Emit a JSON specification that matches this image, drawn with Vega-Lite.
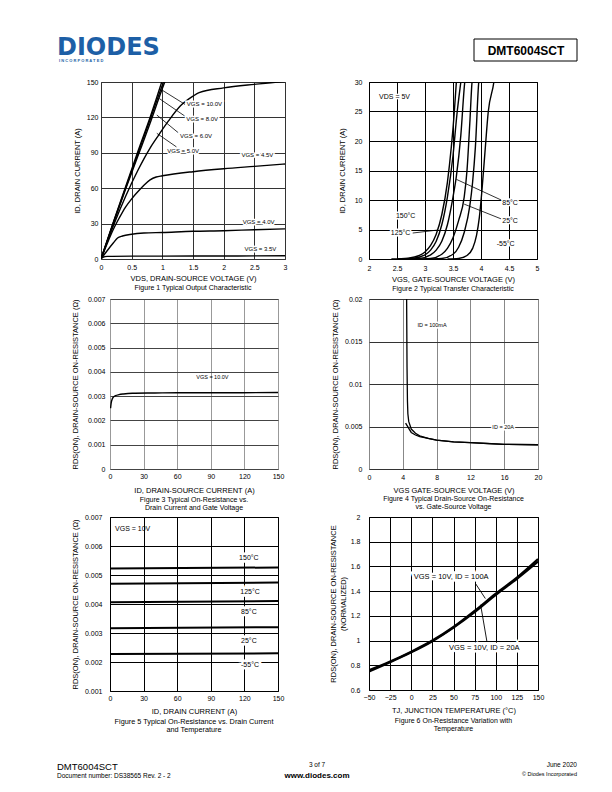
{
  "$schema": "https://vega.github.io/schema/vega-lite/v6.json",
  "padding": 0,
  "background": "white",
  "spacing": 0,
  "config": {
    "font": "Liberation Sans",
    "view": {"stroke": null},
    "axis": {"labelFont": "Liberation Sans", "labelFontSize": 7, "labelColor": "#000", "titleFont": "Liberation Sans", "titleFontSize": 7.5, "titleFontWeight": "normal", "titleColor": "#000", "ticks": false, "domain": false, "grid": true, "gridColor": "#000", "gridOpacity": 1, "gridWidth": 1, "labelFlush": false, "labelOverlap": false, "tickCount": 30},
    "title": {"font": "Liberation Sans", "fontSize": 7, "fontWeight": "normal", "color": "#000", "orient": "bottom", "anchor": "middle", "lineHeight": 8.5},
    "text": {"font": "Liberation Sans", "color": "#000"}
  },
  "datasets": {
    "c1": [
      {"s": "10", "x": 0, "y": 0}, {"s": "10", "x": 0.2, "y": 31}, {"s": "10", "x": 0.4, "y": 61}, {"s": "10", "x": 0.6, "y": 91}, {"s": "10", "x": 0.8, "y": 120}, {"s": "10", "x": 0.99, "y": 150}, {"s": "10", "x": 1.02, "y": 155},
      {"s": "8", "x": 0, "y": 0}, {"s": "8", "x": 0.2, "y": 30.5}, {"s": "8", "x": 0.4, "y": 60}, {"s": "8", "x": 0.6, "y": 89}, {"s": "8", "x": 0.8, "y": 118}, {"s": "8", "x": 1.02, "y": 150}, {"s": "8", "x": 1.05, "y": 154},
      {"s": "6", "x": 0, "y": 0}, {"s": "6", "x": 0.2, "y": 30}, {"s": "6", "x": 0.4, "y": 59}, {"s": "6", "x": 0.6, "y": 87}, {"s": "6", "x": 0.8, "y": 115}, {"s": "6", "x": 1.04, "y": 150}, {"s": "6", "x": 1.07, "y": 154},
      {"s": "5", "x": 0, "y": 0}, {"s": "5", "x": 0.2, "y": 28}, {"s": "5", "x": 0.4, "y": 53}, {"s": "5", "x": 0.6, "y": 75}, {"s": "5", "x": 0.8, "y": 94}, {"s": "5", "x": 0.94, "y": 105}, {"s": "5", "x": 1.1, "y": 117}, {"s": "5", "x": 1.3, "y": 130}, {"s": "5", "x": 1.5, "y": 138}, {"s": "5", "x": 1.6, "y": 141}, {"s": "5", "x": 2, "y": 145}, {"s": "5", "x": 2.5, "y": 148}, {"s": "5", "x": 2.9, "y": 150}, {"s": "5", "x": 3, "y": 150.3},
      {"s": "4.5", "x": 0, "y": 0}, {"s": "4.5", "x": 0.1, "y": 13}, {"s": "4.5", "x": 0.2, "y": 25}, {"s": "4.5", "x": 0.3, "y": 35}, {"s": "4.5", "x": 0.4, "y": 44}, {"s": "4.5", "x": 0.5, "y": 51}, {"s": "4.5", "x": 0.6, "y": 57}, {"s": "4.5", "x": 0.7, "y": 62.5}, {"s": "4.5", "x": 0.8, "y": 67}, {"s": "4.5", "x": 0.9, "y": 69.5}, {"s": "4.5", "x": 1.0, "y": 70.5}, {"s": "4.5", "x": 1.5, "y": 74}, {"s": "4.5", "x": 2, "y": 76.5}, {"s": "4.5", "x": 2.5, "y": 78.5}, {"s": "4.5", "x": 3, "y": 80.5},
      {"s": "4", "x": 0, "y": 0}, {"s": "4", "x": 0.1, "y": 7}, {"s": "4", "x": 0.2, "y": 13.5}, {"s": "4", "x": 0.27, "y": 17.8}, {"s": "4", "x": 0.35, "y": 19.5}, {"s": "4", "x": 0.5, "y": 21}, {"s": "4", "x": 0.7, "y": 22}, {"s": "4", "x": 1.0, "y": 22.5}, {"s": "4", "x": 1.5, "y": 23.5}, {"s": "4", "x": 2, "y": 24}, {"s": "4", "x": 2.5, "y": 24.8}, {"s": "4", "x": 3, "y": 25.5},
      {"s": "3.5", "x": 0, "y": 0}, {"s": "3.5", "x": 0.03, "y": 1.5}, {"s": "3.5", "x": 0.1, "y": 2.2}, {"s": "3.5", "x": 0.5, "y": 2.4}, {"s": "3.5", "x": 1.5, "y": 2.5}, {"s": "3.5", "x": 3, "y": 2.7}
    ],
    "c1t": [
      {"t": "VGS = 10.0V", "x": 1.40, "y": 131},
      {"t": "VGS = 8.0V", "x": 1.39, "y": 119},
      {"t": "VGS = 6.0V", "x": 1.29, "y": 104},
      {"t": "VGS = 5.0V", "x": 1.08, "y": 91.5},
      {"t": "VGS = 4.5V", "x": 2.29, "y": 88},
      {"t": "VGS = 4.0V", "x": 2.31, "y": 31.6},
      {"t": "VGS = 3.5V", "x": 2.34, "y": 8.5}
    ],
    "c1a": [
      {"x": 1.37, "y": 131, "x2": 1.0, "y2": 143},
      {"x": 1.37, "y": 121, "x2": 0.95, "y2": 136},
      {"x": 1.26, "y": 107, "x2": 0.91, "y2": 122},
      {"x": 1.23, "y": 95, "x2": 0.91, "y2": 106.5}
    ],
    "c2": [
      {"s": "A", "x": 2.4, "y": 0}, {"s": "A", "x": 2.7, "y": 0.15}, {"s": "A", "x": 2.9, "y": 0.6}, {"s": "A", "x": 3.0, "y": 1.2}, {"s": "A", "x": 3.1, "y": 2.3}, {"s": "A", "x": 3.2, "y": 4.2}, {"s": "A", "x": 3.3, "y": 7.5}, {"s": "A", "x": 3.4, "y": 13}, {"s": "A", "x": 3.47, "y": 19}, {"s": "A", "x": 3.52, "y": 24.5}, {"s": "A", "x": 3.56, "y": 30}, {"s": "A", "x": 3.57, "y": 31.5},
      {"s": "B", "x": 2.5, "y": 0}, {"s": "B", "x": 2.8, "y": 0.15}, {"s": "B", "x": 3.0, "y": 0.7}, {"s": "B", "x": 3.1, "y": 1.5}, {"s": "B", "x": 3.2, "y": 3}, {"s": "B", "x": 3.3, "y": 5.8}, {"s": "B", "x": 3.4, "y": 10.5}, {"s": "B", "x": 3.5, "y": 17.5}, {"s": "B", "x": 3.57, "y": 24.5}, {"s": "B", "x": 3.64, "y": 30}, {"s": "B", "x": 3.66, "y": 31.5},
      {"s": "C", "x": 2.6, "y": 0}, {"s": "C", "x": 2.9, "y": 0.1}, {"s": "C", "x": 3.1, "y": 0.7}, {"s": "C", "x": 3.2, "y": 1.5}, {"s": "C", "x": 3.3, "y": 3.0}, {"s": "C", "x": 3.4, "y": 5.8}, {"s": "C", "x": 3.5, "y": 10.5}, {"s": "C", "x": 3.56, "y": 14}, {"s": "C", "x": 3.64, "y": 21}, {"s": "C", "x": 3.71, "y": 30}, {"s": "C", "x": 3.73, "y": 31.5},
      {"s": "D", "x": 2.8, "y": 0}, {"s": "D", "x": 3.1, "y": 0.1}, {"s": "D", "x": 3.3, "y": 0.8}, {"s": "D", "x": 3.4, "y": 1.8}, {"s": "D", "x": 3.5, "y": 3.6}, {"s": "D", "x": 3.6, "y": 6.5}, {"s": "D", "x": 3.7, "y": 10.5}, {"s": "D", "x": 3.75, "y": 15}, {"s": "D", "x": 3.8, "y": 23}, {"s": "D", "x": 3.84, "y": 30}, {"s": "D", "x": 3.86, "y": 31.5},
      {"s": "E", "x": 3.0, "y": 0}, {"s": "E", "x": 3.3, "y": 0.1}, {"s": "E", "x": 3.5, "y": 0.8}, {"s": "E", "x": 3.6, "y": 2}, {"s": "E", "x": 3.7, "y": 4.5}, {"s": "E", "x": 3.8, "y": 9}, {"s": "E", "x": 3.85, "y": 13}, {"s": "E", "x": 3.9, "y": 19}, {"s": "E", "x": 3.96, "y": 30}, {"s": "E", "x": 3.98, "y": 31.5},
      {"s": "F", "x": 3.4, "y": 0}, {"s": "F", "x": 3.6, "y": 0.1}, {"s": "F", "x": 3.75, "y": 0.6}, {"s": "F", "x": 3.85, "y": 1.8}, {"s": "F", "x": 3.92, "y": 4}, {"s": "F", "x": 3.97, "y": 7}, {"s": "F", "x": 4.02, "y": 12}, {"s": "F", "x": 4.07, "y": 18}, {"s": "F", "x": 4.13, "y": 25}, {"s": "F", "x": 4.23, "y": 30}, {"s": "F", "x": 4.25, "y": 31.5}
    ],
    "c2t": [
      {"t": "VDS = 5V", "x": 2.18, "y": 27.5},
      {"t": "150°C", "x": 2.48, "y": 7.25},
      {"t": "125°C", "x": 2.39, "y": 4.4},
      {"t": "85°C", "x": 4.38, "y": 9.5},
      {"t": "25°C", "x": 4.38, "y": 6.5},
      {"t": "-55°C", "x": 4.28, "y": 2.6}
    ],
    "c2a": [
      {"x": 2.78, "y": 4.4, "x2": 3.22, "y2": 4.9},
      {"x": 4.36, "y": 10, "x2": 3.56, "y2": 13.5},
      {"x": 4.36, "y": 6.8, "x2": 3.70, "y2": 9.3}
    ],
    "c3": [
      {"x": 0.5, "y": 0.0025}, {"x": 1, "y": 0.0027}, {"x": 2, "y": 0.00288}, {"x": 3, "y": 0.00296}, {"x": 5, "y": 0.00302}, {"x": 8, "y": 0.00306}, {"x": 12, "y": 0.00309}, {"x": 20, "y": 0.00312}, {"x": 40, "y": 0.00313}, {"x": 60, "y": 0.00314}, {"x": 100, "y": 0.00314}, {"x": 150, "y": 0.00315}
    ],
    "c3t": [{"t": "VGS = 10.0V", "x": 77, "y": 0.0038}],
    "c4": [
      {"s": "a", "x": 4.45, "y": 0.0205}, {"s": "a", "x": 4.5, "y": 0.012}, {"s": "a", "x": 4.55, "y": 0.008}, {"s": "a", "x": 4.6, "y": 0.0065}, {"s": "a", "x": 4.7, "y": 0.0056}, {"s": "a", "x": 5, "y": 0.0047}, {"s": "a", "x": 5.5, "y": 0.0042}, {"s": "a", "x": 6, "y": 0.0039}, {"s": "a", "x": 7, "y": 0.0036}, {"s": "a", "x": 8, "y": 0.0034}, {"s": "a", "x": 10, "y": 0.0032}, {"s": "a", "x": 12, "y": 0.0031}, {"s": "a", "x": 14, "y": 0.003}, {"s": "a", "x": 16, "y": 0.0029}, {"s": "a", "x": 20, "y": 0.00285},
      {"s": "b", "x": 4.33, "y": 0.0054}, {"s": "b", "x": 5, "y": 0.0043}, {"s": "b", "x": 5.5, "y": 0.004}, {"s": "b", "x": 6, "y": 0.0038}, {"s": "b", "x": 7, "y": 0.0036}, {"s": "b", "x": 8, "y": 0.0034}, {"s": "b", "x": 10, "y": 0.0032}, {"s": "b", "x": 12, "y": 0.0031}, {"s": "b", "x": 16, "y": 0.0029}, {"s": "b", "x": 20, "y": 0.00285}
    ],
    "c4t": [{"t": "ID = 100mA", "x": 5.73, "y": 0.0169}, {"t": "ID = 20A", "x": 14.6, "y": 0.0049}],
    "c5": [
      {"s": "150", "x": 0, "y": 0.00522}, {"s": "150", "x": 150, "y": 0.00526},
      {"s": "125", "x": 0, "y": 0.0047}, {"s": "125", "x": 150, "y": 0.00474},
      {"s": "85", "x": 0, "y": 0.00406}, {"s": "85", "x": 150, "y": 0.0041},
      {"s": "25", "x": 0, "y": 0.00316}, {"s": "25", "x": 150, "y": 0.0032},
      {"s": "-55", "x": 0, "y": 0.00228}, {"s": "-55", "x": 150, "y": 0.0023}
    ],
    "c5t": [
      {"t": "150°C", "x": 124, "y": 0.0056},
      {"t": "125°C", "x": 125, "y": 0.0044},
      {"t": "85°C", "x": 124, "y": 0.00373},
      {"t": "25°C", "x": 124, "y": 0.00272},
      {"t": "-55°C", "x": 125, "y": 0.0019}
    ],
    "c5v": [{"t": "VGS = 10V", "x": 4.5, "y": 0.0066}],
    "c6": [
      {"s": "100", "x": -50, "y": 0.76}, {"s": "100", "x": -25, "y": 0.83}, {"s": "100", "x": 0, "y": 0.91}, {"s": "100", "x": 25, "y": 1.0}, {"s": "100", "x": 50, "y": 1.11}, {"s": "100", "x": 75, "y": 1.24}, {"s": "100", "x": 100, "y": 1.38}, {"s": "100", "x": 125, "y": 1.51}, {"s": "100", "x": 150, "y": 1.66},
      {"s": "20", "x": -50, "y": 0.75}, {"s": "20", "x": -25, "y": 0.825}, {"s": "20", "x": 0, "y": 0.905}, {"s": "20", "x": 25, "y": 0.995}, {"s": "20", "x": 50, "y": 1.105}, {"s": "20", "x": 75, "y": 1.23}, {"s": "20", "x": 100, "y": 1.37}, {"s": "20", "x": 125, "y": 1.5}, {"s": "20", "x": 150, "y": 1.64}
    ],
    "c6t": [{"t": "VGS = 10V, ID = 100A", "x": 3, "y": 1.516}, {"t": "VGS = 10V, ID = 20A", "x": 44.7, "y": 0.94}],
    "c6a": [{"x": 76.2, "y": 1.46, "x2": 87.7, "y2": 1.34}, {"x": 89.6, "y": 0.99, "x2": 82.1, "y2": 1.29}]
  },
  "vconcat": [
    {
      "width": 612, "height": 77,
      "view": {"stroke": null, "fill": "white"},
      "data": {"values": [{}]},
      "layer": [
        {"mark": {"type": "text", "x": 57, "y": 55, "text": "DIODES", "font": "DejaVu Sans", "fontSize": 24, "fontWeight": "bold", "color": "#1d5fa6", "align": "left", "baseline": "alphabetic"}},
        {"mark": {"type": "text", "x": 59, "y": 61.5, "text": "I    N    C    O    R    P    O    R    A    T    E    D", "fontSize": 4, "fontWeight": "bold", "color": "#1d5fa6", "align": "left", "baseline": "alphabetic"}},
        {"mark": {"type": "rect", "x": 474, "x2": 577, "y": 39, "y2": 61, "fill": null, "stroke": "#000", "strokeWidth": 1}, "encoding": {}},
        {"mark": {"type": "text", "x": 526, "y": 54.5, "text": "DMT6004SCT", "fontSize": 12, "fontWeight": "bold", "align": "center", "baseline": "alphabetic"}}
      ]
    },
    {
      "hconcat": [
        {"width": 101, "height": 212, "data": {"values": [{}]}, "mark": {"type": "text", "text": ""}},
        {
          "width": 184, "height": 177,
          "view": {"stroke": "#333", "strokeWidth": 1},
          "title": {"text": "Figure 1 Typical Output Characteristic", "offset": 2},
          "layer": [
            {"data": {"name": "c1"}, "mark": {"type": "line", "color": "#000", "strokeWidth": 1.4, "clip": true, "interpolate": "monotone"},
             "encoding": {
               "x": {"field": "x", "type": "quantitative", "scale": {"domain": [0, 3], "nice": false, "zero": false}, "axis": {"title": "VDS, DRAIN-SOURCE VOLTAGE (V)", "values": [0, 0.5, 1, 1.5, 2, 2.5, 3], "tickCount": 30, "format": ".1~f", "labelOverlap": false, "labelPadding": 4, "titlePadding": 4, "gridColor": "#333"}},
               "y": {"field": "y", "type": "quantitative", "scale": {"domain": [0, 150], "nice": false, "zero": false}, "axis": {"title": "ID, DRAIN CURRENT (A)", "values": [0, 30, 60, 90, 120, 150], "tickCount": 30, "format": "d", "labelOverlap": false, "labelPadding": 3, "titlePadding": 5, "gridColor": "#333"}},
               "detail": {"field": "s", "type": "nominal"}}},
            {"data": {"name": "c1a"}, "mark": {"type": "rule", "color": "#000", "strokeWidth": 0.8},
             "encoding": {"x": {"field": "x", "type": "quantitative"}, "y": {"field": "y", "type": "quantitative"}, "x2": {"field": "x2"}, "y2": {"field": "y2"}}},
            {"data": {"name": "c1t"}, "mark": {"type": "text", "align": "left", "baseline": "middle", "fontSize": 6, "stroke": "#fff", "strokeWidth": 3},
             "encoding": {"x": {"field": "x", "type": "quantitative"}, "y": {"field": "y", "type": "quantitative"}, "text": {"field": "t"}}},
            {"data": {"name": "c1t"}, "mark": {"type": "text", "align": "left", "baseline": "middle", "fontSize": 6},
             "encoding": {"x": {"field": "x", "type": "quantitative"}, "y": {"field": "y", "type": "quantitative"}, "text": {"field": "t"}}}
          ]
        },
        {"width": 84, "height": 212, "data": {"values": [{}]}, "mark": {"type": "text", "text": ""}},
        {
          "width": 168, "height": 177,
          "view": {"stroke": "#000", "strokeWidth": 1},
          "title": {"text": "Figure 2 Typical Transfer Characteristic", "offset": 2},
          "layer": [
            {"data": {"name": "c2"}, "mark": {"type": "line", "color": "#000", "strokeWidth": 1.4, "clip": true, "interpolate": "monotone"},
             "encoding": {
               "x": {"field": "x", "type": "quantitative", "scale": {"domain": [2, 5], "nice": false, "zero": false}, "axis": {"title": "VGS, GATE-SOURCE VOLTAGE (V)", "values": [2, 2.5, 3, 3.5, 4, 4.5, 5], "tickCount": 30, "format": ".1~f", "labelOverlap": false, "labelPadding": 5, "titlePadding": 4}},
               "y": {"field": "y", "type": "quantitative", "scale": {"domain": [0, 30], "nice": false, "zero": false}, "axis": {"title": "ID, DRAIN CURRENT (A)", "values": [0, 5, 10, 15, 20, 25, 30], "tickCount": 30, "format": "d", "labelOverlap": false, "labelPadding": 7, "titlePadding": 8}},
               "detail": {"field": "s", "type": "nominal"}}},
            {"data": {"name": "c2a"}, "mark": {"type": "rule", "color": "#000", "strokeWidth": 0.8},
             "encoding": {"x": {"field": "x", "type": "quantitative"}, "y": {"field": "y", "type": "quantitative"}, "x2": {"field": "x2"}, "y2": {"field": "y2"}}},
            {"data": {"name": "c2t"}, "mark": {"type": "text", "align": "left", "baseline": "middle", "fontSize": 7, "stroke": "#fff", "strokeWidth": 3},
             "encoding": {"x": {"field": "x", "type": "quantitative"}, "y": {"field": "y", "type": "quantitative"}, "text": {"field": "t"}}},
            {"data": {"name": "c2t"}, "mark": {"type": "text", "align": "left", "baseline": "middle", "fontSize": 7},
             "encoding": {"x": {"field": "x", "type": "quantitative"}, "y": {"field": "y", "type": "quantitative"}, "text": {"field": "t"}}}
          ]
        }
      ],
      "spacing": 0, "bounds": "flush"
    },
    {
      "hconcat": [
        {"width": 110, "height": 213, "data": {"values": [{}]}, "mark": {"type": "text", "text": ""}},
        {
          "width": 168, "height": 170,
          "view": {"stroke": "#777", "strokeWidth": 1},
          "title": {"text": ["Figure 3 Typical On-Resistance vs.", "Drain Current and Gate Voltage"], "offset": 2, "lineHeight": 8},
          "layer": [
            {"data": {"name": "c3"}, "mark": {"type": "line", "color": "#000", "strokeWidth": 1.4, "clip": true, "interpolate": "monotone"},
             "encoding": {
               "x": {"field": "x", "type": "quantitative", "scale": {"domain": [0, 150], "nice": false, "zero": false}, "axis": {"title": "ID, DRAIN-SOURCE CURRENT (A)", "values": [0, 30, 60, 90, 120, 150], "tickCount": 30, "format": "d", "labelOverlap": false, "labelPadding": 3.5, "titlePadding": 7, "gridColor": "#999"}},
               "y": {"field": "y", "type": "quantitative", "scale": {"domain": [0, 0.007], "nice": false, "zero": false}, "axis": {"title": "RDS(ON), DRAIN-SOURCE ON-RESISTANCE (Ω)", "values": [0, 0.001, 0.002, 0.003, 0.004, 0.005, 0.006, 0.007], "tickCount": 30, "format": ".3~f", "labelOverlap": false, "labelPadding": 5, "titlePadding": 8, "gridColor": "#444"}}}},
            {"data": {"name": "c3t"}, "mark": {"type": "text", "align": "left", "baseline": "middle", "fontSize": 5.5},
             "encoding": {"x": {"field": "x", "type": "quantitative"}, "y": {"field": "y", "type": "quantitative"}, "text": {"field": "t"}}}
          ]
        },
        {"width": 91, "height": 213, "data": {"values": [{}]}, "mark": {"type": "text", "text": ""}},
        {
          "width": 169, "height": 170,
          "view": {"stroke": "#666", "strokeWidth": 1},
          "title": {"text": ["Figure 4 Typical Drain-Source On-Resistance", "vs. Gate-Source Voltage"], "offset": 1, "lineHeight": 7.5},
          "layer": [
            {"data": {"name": "c4"}, "mark": {"type": "line", "color": "#000", "strokeWidth": 1.3, "clip": true},
             "encoding": {
               "x": {"field": "x", "type": "quantitative", "scale": {"domain": [0, 20], "nice": false, "zero": false}, "axis": {"title": "VGS GATE-SOURCE VOLTAGE (V)", "values": [0, 4, 8, 12, 16, 20], "tickCount": 30, "format": "d", "labelOverlap": false, "labelPadding": 4.5, "titlePadding": 6, "gridColor": "#888"}},
               "y": {"field": "y", "type": "quantitative", "scale": {"domain": [0, 0.02], "nice": false, "zero": false}, "axis": {"title": "RDS(ON), DRAIN-SOURCE ON-RESISTANCE (Ω)", "values": [0, 0.005, 0.01, 0.015, 0.02], "tickCount": 30, "format": ".3~f", "labelOverlap": false, "labelPadding": 7, "titlePadding": 5, "gridColor": "#333"}},
               "detail": {"field": "s", "type": "nominal"}}},
            {"data": {"name": "c4t"}, "mark": {"type": "text", "align": "left", "baseline": "middle", "fontSize": 5.5, "stroke": "#fff", "strokeWidth": 3},
             "encoding": {"x": {"field": "x", "type": "quantitative"}, "y": {"field": "y", "type": "quantitative"}, "text": {"field": "t"}}},
            {"data": {"name": "c4t"}, "mark": {"type": "text", "align": "left", "baseline": "middle", "fontSize": 5.5},
             "encoding": {"x": {"field": "x", "type": "quantitative"}, "y": {"field": "y", "type": "quantitative"}, "text": {"field": "t"}}}
          ]
        }
      ],
      "spacing": 0, "bounds": "flush"
    },
    {
      "hconcat": [
        {
          "width": 110, "height": 174,
          "data": {"values": [{}]},
          "layer": [
            {"mark": {"type": "text", "x": 57, "y": 252.5, "text": "DMT6004SCT", "fontSize": 9.5, "align": "left", "baseline": "alphabetic"}},
            {"mark": {"type": "text", "x": 57, "y": 261.3, "text": "Document number: DS38565 Rev. 2 - 2", "fontSize": 6.5, "align": "left", "baseline": "alphabetic"}},
            {"mark": {"type": "text", "x": 317, "y": 250.3, "text": "3 of 7", "fontSize": 6.5, "align": "center", "baseline": "alphabetic"}},
            {"mark": {"type": "text", "x": 317, "y": 260.5, "text": "www.diodes.com", "fontSize": 8, "fontWeight": "bold", "align": "center", "baseline": "alphabetic"}},
            {"mark": {"type": "text", "x": 577, "y": 250.3, "text": "June 2020", "fontSize": 6.5, "align": "right", "baseline": "alphabetic"}},
            {"mark": {"type": "text", "x": 577, "y": 259, "text": "© Diodes Incorporated", "fontSize": 5.5, "align": "right", "baseline": "alphabetic"}}
          ]
        },
        {
          "width": 168, "height": 174,
          "view": {"stroke": "#000", "strokeWidth": 1},
          "title": {"text": ["Figure 5 Typical On-Resistance vs. Drain Current", "and Temperature"], "offset": 3, "fontSize": 7.3, "lineHeight": 8.5},
          "layer": [
            {"data": {"name": "c5"}, "mark": {"type": "line", "color": "#000", "strokeWidth": 2, "clip": true},
             "encoding": {
               "x": {"field": "x", "type": "quantitative", "scale": {"domain": [0, 150], "nice": false, "zero": false}, "axis": {"title": "ID, DRAIN CURRENT (A)", "values": [0, 30, 60, 90, 120, 150], "tickCount": 30, "format": "d", "labelOverlap": false, "labelPadding": 3, "titlePadding": 6}},
               "y": {"field": "y", "type": "quantitative", "scale": {"domain": [0.001, 0.007], "nice": false, "zero": false}, "axis": {"title": "RDS(ON),  DRAIN-SOURCE ON-RESISTANCE (Ω)", "values": [0.001, 0.002, 0.003, 0.004, 0.005, 0.006, 0.007], "tickCount": 30, "format": ".3~f", "labelOverlap": false, "labelPadding": 8, "titlePadding": 5}},
               "detail": {"field": "s", "type": "nominal"}}},
            {"data": {"name": "c5t"}, "mark": {"type": "text", "align": "center", "baseline": "middle", "fontSize": 7, "stroke": "#fff", "strokeWidth": 5},
             "encoding": {"x": {"field": "x", "type": "quantitative"}, "y": {"field": "y", "type": "quantitative"}, "text": {"field": "t"}}},
            {"data": {"name": "c5t"}, "mark": {"type": "text", "align": "center", "baseline": "middle", "fontSize": 7},
             "encoding": {"x": {"field": "x", "type": "quantitative"}, "y": {"field": "y", "type": "quantitative"}, "text": {"field": "t"}}},
            {"data": {"name": "c5v"}, "mark": {"type": "text", "align": "left", "baseline": "middle", "fontSize": 7},
             "encoding": {"x": {"field": "x", "type": "quantitative"}, "y": {"field": "y", "type": "quantitative"}, "text": {"field": "t"}}}
          ]
        },
        {"width": 91, "height": 174, "data": {"values": [{}]}, "mark": {"type": "text", "text": ""}},
        {
          "width": 169, "height": 173,
          "view": {"stroke": "#000", "strokeWidth": 1},
          "title": {"text": ["Figure 6 On-Resistance Variation with", "Temperature"], "offset": 3, "lineHeight": 8.5},
          "layer": [
            {"data": {"name": "c6"}, "mark": {"type": "line", "color": "#000", "strokeWidth": 2.2, "clip": true, "interpolate": "monotone"},
             "encoding": {
               "x": {"field": "x", "type": "quantitative", "scale": {"domain": [-50, 150], "nice": false, "zero": false}, "axis": {"title": "TJ, JUNCTION TEMPERATURE (°C)", "values": [-50, -25, 0, 25, 50, 75, 100, 125, 150], "tickCount": 30, "format": "d", "labelOverlap": false, "labelPadding": 3, "titlePadding": 6}},
               "y": {"field": "y", "type": "quantitative", "scale": {"domain": [0.6, 2], "nice": false, "zero": false}, "axis": {"title": ["RDS(ON), DRAIN-SOURCE ON-RESISTANCE", "(NORMALIZED)"], "titleLineHeight": 10, "values": [0.6, 0.8, 1, 1.2, 1.4, 1.6, 1.8, 2], "tickCount": 30, "format": ".1~f", "labelOverlap": false, "labelPadding": 9, "titlePadding": 3}},
               "detail": {"field": "s", "type": "nominal"}}},
            {"data": {"name": "c6t"}, "mark": {"type": "text", "align": "left", "baseline": "middle", "fontSize": 7.5, "stroke": "#fff", "strokeWidth": 5},
             "encoding": {"x": {"field": "x", "type": "quantitative"}, "y": {"field": "y", "type": "quantitative"}, "text": {"field": "t"}}},
            {"data": {"name": "c6a"}, "mark": {"type": "rule", "color": "#000", "strokeWidth": 0.9},
             "encoding": {"x": {"field": "x", "type": "quantitative"}, "y": {"field": "y", "type": "quantitative"}, "x2": {"field": "x2"}, "y2": {"field": "y2"}}},
            {"data": {"name": "c6t"}, "mark": {"type": "text", "align": "left", "baseline": "middle", "fontSize": 7.5},
             "encoding": {"x": {"field": "x", "type": "quantitative"}, "y": {"field": "y", "type": "quantitative"}, "text": {"field": "t"}}}
          ]
        }
      ],
      "spacing": 0, "bounds": "flush"
    }
  ]
}
